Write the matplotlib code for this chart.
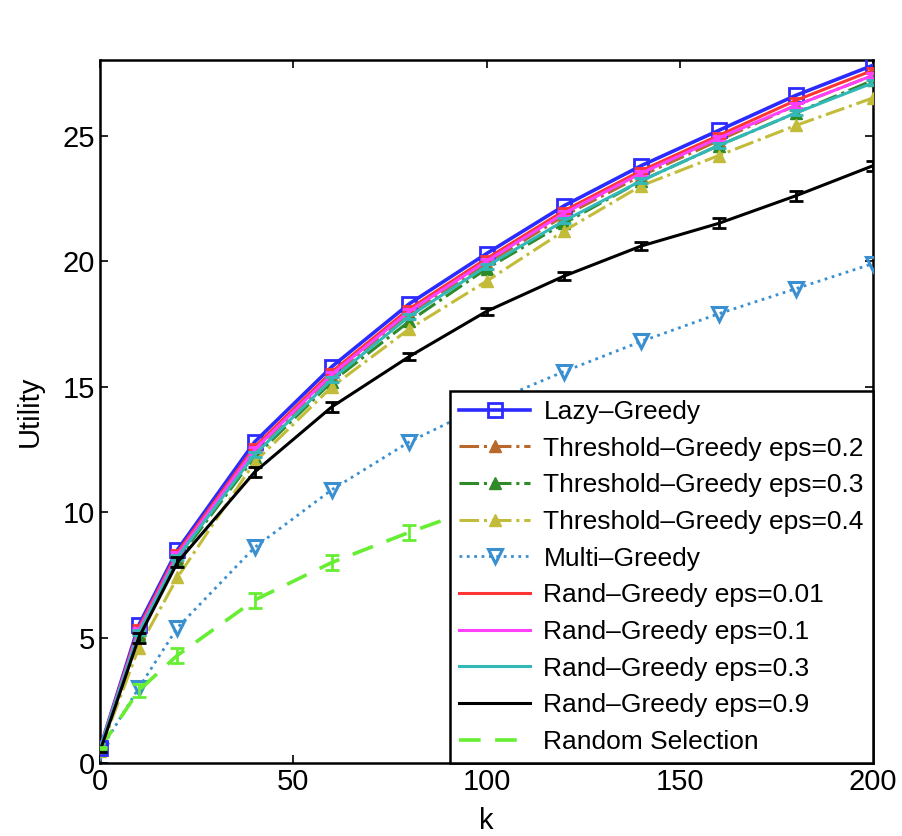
import matplotlib
matplotlib.use("Agg")
import matplotlib.pyplot as plt
import numpy as np

plt.rcParams['font.family'] = ['Liberation Sans', 'DejaVu Sans']

k = [0, 10, 20, 40, 60, 80, 100, 120, 140, 160, 180, 200]

lazy = [0.6, 5.5, 8.5, 12.8, 15.8, 18.3, 20.3, 22.2, 23.8, 25.2, 26.6, 27.8]
thr_02 = [0.6, 5.2, 8.2, 12.4, 15.4, 17.9, 19.9, 21.8, 23.4, 24.8, 26.2, 27.4]
thr_03 = [0.6, 5.1, 8.1, 12.2, 15.2, 17.6, 19.7, 21.5, 23.2, 24.6, 25.9, 27.2]
thr_04 = [0.5, 4.6, 7.4, 12.0, 15.0, 17.3, 19.2, 21.2, 23.0, 24.2, 25.4, 26.5]
multi = [0.5, 3.0, 5.4, 8.6, 10.9, 12.8, 14.3, 15.6, 16.8, 17.9, 18.9, 19.9]
rand_001 = [0.6, 5.4, 8.4, 12.6, 15.6, 18.1, 20.1, 22.0, 23.6, 25.0, 26.4, 27.6]
rand_01 = [0.6, 5.3, 8.3, 12.5, 15.5, 18.0, 20.0, 21.9, 23.5, 24.9, 26.2, 27.4]
rand_03 = [0.6, 5.2, 8.2, 12.3, 15.3, 17.8, 19.8, 21.6, 23.2, 24.6, 25.9, 27.1]
rand_09 = [0.5, 5.0, 8.0, 11.6, 14.2, 16.2, 18.0, 19.4, 20.6, 21.5, 22.6, 23.8]
random_sel = [0.6, 2.9, 4.3, 6.5, 8.0, 9.2, 10.3, 11.2, 12.1, 12.9, 13.6, 14.3]

err_rand = [0.02, 0.1, 0.1, 0.1, 0.1, 0.1, 0.1, 0.1, 0.1, 0.1, 0.1, 0.1]
err_rand09 = [0.05, 0.2, 0.2, 0.2, 0.2, 0.15, 0.15, 0.15, 0.15, 0.2, 0.2, 0.2]
err_random = [0.05, 0.25, 0.3, 0.3, 0.3, 0.3, 0.3, 0.3, 0.3, 0.3, 0.3, 0.3]

fig = plt.figure(figsize=(9.02, 8.36), dpi=100)
ax = fig.add_axes([0.111, 0.087, 0.857, 0.841])

ax.plot(k, lazy, '-', color='#2b2bff', lw=2.6, marker='s', ms=10, mfc='none',
        mew=2, label='Lazy\u2013Greedy', zorder=5)
ax.plot(k, thr_02, '-.', color='#b8682a', lw=2.2, marker='^', ms=9,
        label='Threshold\u2013Greedy eps=0.2', zorder=4)
ax.plot(k, thr_03, '-.', color='#2f8a2a', lw=2.2, marker='^', ms=9,
        label='Threshold\u2013Greedy eps=0.3', zorder=4)
ax.plot(k, thr_04, '-.', color='#c2bc3a', lw=2.2, marker='^', ms=9,
        label='Threshold\u2013Greedy eps=0.4', zorder=4)
ax.plot(k, multi, ':', color='#3a8fd0', lw=2, marker='v', ms=10, mfc='none',
        mew=2.2, label='Multi\u2013Greedy', zorder=3)

# rand-greedy and random selection: lines with error bars (legend shows plain line)
rg = [(rand_001, err_rand, '#ff3535', '-', 'Rand\u2013Greedy eps=0.01'),
      (rand_01, err_rand, '#ff40ff', '-', 'Rand\u2013Greedy eps=0.1'),
      (rand_03, err_rand, '#33b8b8', '-', 'Rand\u2013Greedy eps=0.3'),
      (rand_09, err_rand09, 'black', '-', 'Rand\u2013Greedy eps=0.9'),
      (random_sel, err_random, '#66ee33', '--', 'Random Selection')]
for vals, err, c, ls, lab in rg:
    if ls == '--':
        ax.plot(k, vals, ls, color=c, lw=2.6, dashes=(6, 4), label=lab, zorder=3)
    else:
        ax.plot(k, vals, ls, color=c, lw=2.2, label=lab, zorder=5)
    ax.errorbar(k, vals, yerr=err, fmt='none', ecolor=c, elinewidth=2,
                capsize=5, capthick=2, zorder=5)

ax.set_xlim(0, 200)
ax.set_ylim(0, 28)
ax.set_xticks([0, 50, 100, 150, 200])
ax.set_yticks([0, 5, 10, 15, 20, 25])
ax.tick_params(direction='in', top=True, right=True, labelsize=21, length=6, width=1.2)
for s in ax.spines.values():
    s.set_linewidth(1.8)

ax.set_xlabel('k', fontsize=21, labelpad=8)
ax.set_ylabel('Utility', fontsize=21, labelpad=14)

leg = ax.legend(loc='lower right', fontsize=19, frameon=True,
                fancybox=False, framealpha=1, edgecolor='black',
                borderaxespad=0, handlelength=2.7, labelspacing=0.48,
                handletextpad=0.5, borderpad=0.35)
leg.get_frame().set_linewidth(1.8)
leg.set_zorder(10)

fig.savefig('out.png', dpi=100)
